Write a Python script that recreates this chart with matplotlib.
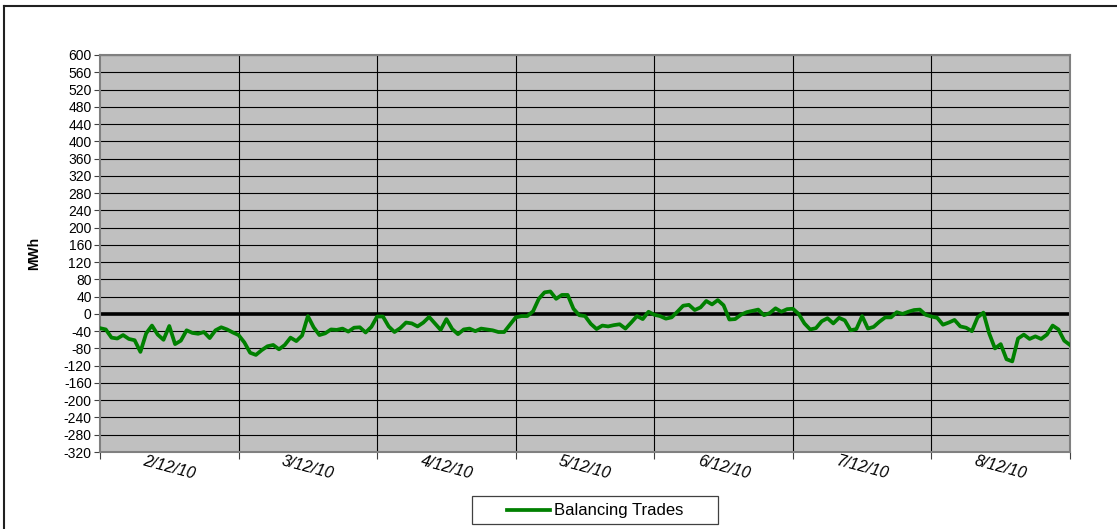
import matplotlib.pyplot as plt
import numpy as np
from matplotlib.lines import Line2D
from matplotlib.patches import Rectangle

plt.rcParams["font.family"] = ["Liberation Sans", "DejaVu Sans"]
plt.rcParams["axes.unicode_minus"] = False

# hourly balancing trades (MWh), 2/12/10 .. 8/12/10
day_labels = ["2/12/10", "3/12/10", "4/12/10", "5/12/10", "6/12/10", "7/12/10", "8/12/10"]
day1 = [-33, -36, -55, -57, -49, -58, -61, -88, -45, -27, -48, -60,
        -28, -70, -62, -38, -44, -46, -42, -56, -38, -31, -36, -43]
day2 = [-49, -66, -90, -95, -84, -75, -72, -82, -72, -55, -63, -50,
        -5, -31, -49, -45, -36, -37, -34, -41, -32, -31, -43, -30]
day3 = [-6, -6, -29, -42, -33, -20, -22, -29, -20, -7, -22, -37,
        -12, -35, -47, -36, -34, -40, -34, -36, -38, -42, -42, -25]
day4 = [-8, -5, -5, 6, 35, 50, 52, 35, 44, 44, 12, -3,
        -5, -23, -35, -27, -29, -26, -24, -34, -20, -5, -12, 5]
day5 = [-2, -5, -11, -8, 5, 19, 21, 9, 15, 30, 22, 32,
        20, -13, -12, -2, 4, 7, 10, -3, 2, 13, 5, 11]
day6 = [12, 0, -22, -36, -33, -17, -10, -22, -9, -15, -38, -35,
        -5, -34, -30, -18, -8, -8, 4, 0, 5, 9, 10, -2]
day7 = [-6, -9, -25, -20, -14, -29, -32, -40, -8, 3, -45, -80,
        -70, -105, -110, -57, -48, -58, -52, -58, -48, -27, -36, -62, -72]
series_name = "Balancing Trades"

values = day1 + day2 + day3 + day4 + day5 + day6 + day7
hours = np.arange(len(values))

W, H = 1117, 529
fig = plt.figure(figsize=(W / 100, H / 100), dpi=100)
fig.patch.set_facecolor("white")


def fx(px):
    return px / W


def fy(py):
    return 1 - py / H


# chart-area border (top and left visible)
fig.add_artist(Line2D([fx(4), fx(4)], [0, fy(6)], transform=fig.transFigure,
                      color="#202020", linewidth=1.5))
fig.add_artist(Line2D([fx(4), 1], [fy(6), fy(6)], transform=fig.transFigure,
                      color="#202020", linewidth=1.5))

ax = fig.add_axes([fx(100), fy(452), fx(970), 397 / H])
ax.set_facecolor("#C0C0C0")

ax.set_ylim(-320, 600)
ax.set_yticks(np.arange(-320, 601, 40))
ax.set_xlim(0, 168)
ax.yaxis.grid(True, color="black", linewidth=0.8)
for d in range(1, 7):
    ax.axvline(d * 24, color="black", linewidth=0.8)
ax.set_axisbelow(True)
ax.axhline(0, color="black", linewidth=2.6, zorder=2)

ax.plot(hours, values, color="#008000", linewidth=2.7, zorder=3)

for spine in ax.spines.values():
    spine.set_color("#808080")
    spine.set_linewidth(1.5)

ax.tick_params(axis="y", labelsize=10, length=4, color="#404040", direction="out", pad=2)
ax.set_xticks(np.arange(0, 169, 24))
ax.set_xticklabels([])
ax.tick_params(axis="x", length=5, color="#404040", direction="out")

for i, lab in enumerate(day_labels):
    ax.text(i * 24 + 12, -355, lab, ha="center", va="center", rotation=-15,
            fontsize=11.5, style="italic", clip_on=False)

ax.set_ylabel("MWh", fontsize=10, fontweight="bold", labelpad=16)

# legend box drawn by hand to match the wide Excel-style frame
fig.add_artist(Rectangle((fx(472), fy(524)), fx(246), 28 / H, transform=fig.transFigure,
                         facecolor="white", edgecolor="#404040", linewidth=0.9))
fig.add_artist(Line2D([fx(507), fx(550)], [fy(510), fy(510)], transform=fig.transFigure,
                      color="#008000", linewidth=2.7))
fig.text(fx(554), fy(510), series_name, ha="left", va="center", fontsize=12)

plt.savefig("out.png", dpi=100, facecolor=fig.get_facecolor())
plt.close()
